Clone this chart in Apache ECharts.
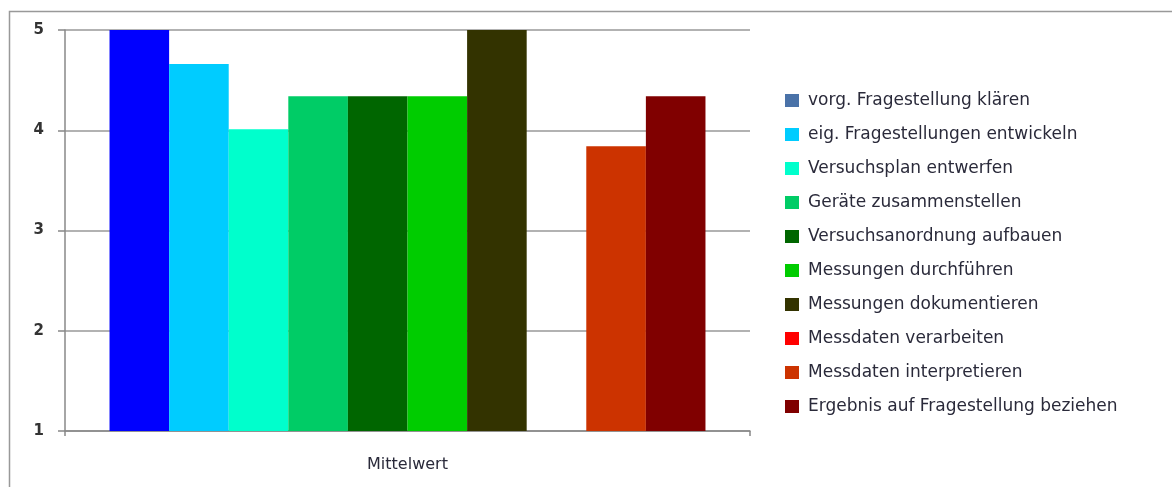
<!DOCTYPE html>
<html>
<head>
<meta charset="utf-8">
<script src="https://cdn.jsdelivr.net/npm/echarts@6/dist/echarts.min.js"></script>
<style>html,body{margin:0;padding:0;background:#fff;}#c{width:1172px;height:487px;}</style>
</head>
<body>
<div id="c"></div>
<script>
const categories = ['Mittelwert'];
const seriesNames = [
  'vorg. Fragestellung klären',
  'eig. Fragestellungen entwickeln',
  'Versuchsplan entwerfen',
  'Geräte zusammenstellen',
  'Versuchsanordnung aufbauen',
  'Messungen durchführen',
  'Messungen dokumentieren',
  'Messdaten verarbeiten',
  'Messdaten interpretieren',
  'Ergebnis auf Fragestellung beziehen'
];
const seriesValues = [5.0, 4.66, 4.01, 4.34, 4.34, 4.34, 5.0, null, 3.84, 4.34];
const barColors = ['#0000ff', '#00ccff', '#00ffcc', '#00cc66', '#006600', '#00cc00', '#333300', '#ff0000', '#cc3300', '#800000'];
const legendColors = ['#4a72a8', '#00ccff', '#00ffcc', '#00cc66', '#006600', '#00cc00', '#333300', '#ff0000', '#cc3300', '#800000'];
const yTicks = [1, 2, 3, 4, 5];

const chart = echarts.init(document.getElementById('c'));
const font = 'DejaVu Sans, sans-serif';
chart.setOption({
  animation: false,
  backgroundColor: '#fff',
  graphic: [{
    type: 'rect', left: 7, top: 9,
    shape: { width: 1300, height: 600 },
    style: { fill: 'none', stroke: '#999', lineWidth: 1.5 },
    silent: true
  }],
  grid: { left: 65, right: 422, top: 30, bottom: 56 },
  legend: {
    orient: 'vertical', left: 785, top: 92, padding: 0,
    itemWidth: 14, itemHeight: 13, itemGap: 17,
    icon: 'rect',
    textStyle: { fontFamily: font, fontSize: 17, color: '#2a2a3a', padding: [0, 0, 0, 4] },
    data: seriesNames.map((n, i) => ({ name: n, itemStyle: { color: legendColors[i] } }))
  },
  xAxis: {
    type: 'category', data: categories,
    axisLine: { lineStyle: { color: '#888', width: 1.5 } },
    axisTick: { show: true, length: 5, lineStyle: { color: '#888', width: 1.5 } },
    axisLabel: { fontFamily: font, fontSize: 16, color: '#2a2a3a', margin: 26 }
  },
  yAxis: {
    type: 'value', min: yTicks[0], max: yTicks[yTicks.length - 1], interval: 1,
    axisLine: { show: true, lineStyle: { color: '#888', width: 1.5 } },
    axisTick: { show: true, length: 7, lineStyle: { color: '#888', width: 1.5 } },
    axisLabel: { fontFamily: font, fontSize: 15, fontWeight: 'bold', color: '#333', margin: 21 },
    splitLine: { show: true, lineStyle: { color: '#999', width: 1.5 } }
  },
  series: seriesNames.map((n, i) => ({
    type: 'bar', name: n,
    data: [seriesValues[i]],
    barGap: '0%', barCategoryGap: '13%',
    itemStyle: { color: barColors[i] }
  }))
});
</script>
</body>
</html>
